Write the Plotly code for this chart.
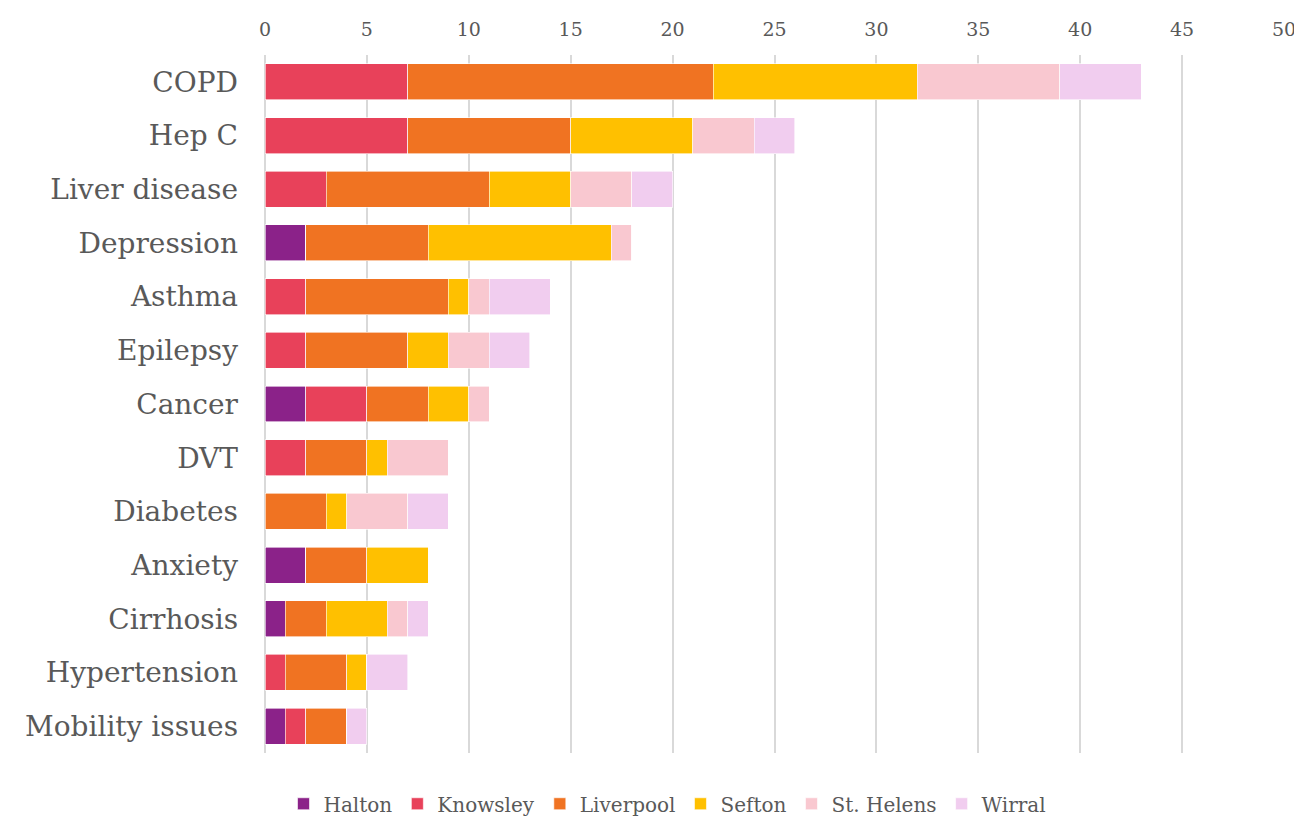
import plotly.graph_objects as go

categories = ["COPD", "Hep C", "Liver disease", "Depression", "Asthma", "Epilepsy",
              "Cancer", "DVT", "Diabetes", "Anxiety", "Cirrhosis", "Hypertension",
              "Mobility issues"]
halton    = [0, 0, 0, 2, 0, 0, 2, 0, 0, 2, 1, 0, 1]
knowsley  = [7, 7, 3, 0, 2, 2, 3, 2, 0, 0, 0, 1, 1]
liverpool = [15, 8, 8, 6, 7, 5, 3, 3, 3, 3, 2, 3, 2]
sefton    = [10, 6, 4, 9, 1, 2, 2, 1, 1, 3, 3, 1, 0]
st_helens = [7, 3, 3, 1, 1, 2, 1, 3, 3, 0, 1, 0, 0]
wirral    = [4, 2, 2, 0, 3, 2, 0, 0, 2, 0, 1, 2, 1]

series = [
    ("Halton", halton, "#8B2289"),
    ("Knowsley", knowsley, "#E8415A"),
    ("Liverpool", liverpool, "#F07322"),
    ("Sefton", sefton, "#FFC000"),
    ("St. Helens", st_helens, "#F9C8D0"),
    ("Wirral", wirral, "#F1CDEF"),
]

font_family = "DejaVu Serif"
fig = go.Figure()
for name, vals, col in series:
    fig.add_trace(go.Bar(
        y=categories, x=vals, name=name, orientation="h",
        marker=dict(color=col, line=dict(color="white", width=0.6)),
    ))

fig.update_layout(
    barmode="stack",
    bargap=0.33,
    width=1302, height=817,
    margin=dict(l=257, r=26, t=47, b=72),
    plot_bgcolor="white", paper_bgcolor="white",
    font=dict(family=font_family, color="#595959"),
    xaxis=dict(range=[0, 50], dtick=5, side="top", showgrid=True,
               gridcolor="#D9D9D9", gridwidth=2, zeroline=True,
               zerolinecolor="#D9D9D9", zerolinewidth=2, automargin=False,
               tickfont=dict(size=19, color="#595959"), ticks="",
               ticklabelstandoff=14, ticklabeloverflow="allow"),
    yaxis=dict(autorange="reversed", tickfont=dict(size=28, color="#595959"),
               ticks="", automargin=False, ticklabelstandoff=26),
    legend=dict(orientation="h", x=0.395, xanchor="center",
                yref="container", y=0.026, yanchor="middle",
                font=dict(size=20, color="#595959"), traceorder="normal",
                itemwidth=30),
)
fig.write_html("out.html")
